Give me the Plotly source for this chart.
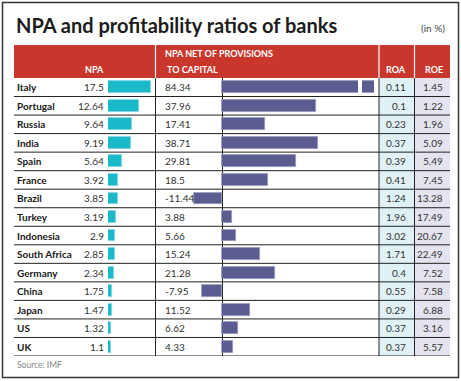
import plotly.graph_objects as go

countries = ["Italy", "Portugal", "Russia", "India", "Spain", "France", "Brazil", "Turkey",
             "Indonesia", "South Africa", "Germany", "China", "Japan", "US", "UK"]
npa = [17.5, 12.64, 9.64, 9.19, 5.64, 3.92, 3.85, 3.19, 2.9, 2.85, 2.34, 1.75, 1.47, 1.32, 1.1]
npa_net = [84.34, 37.96, 17.41, 38.71, 29.81, 18.5, -11.44, 3.88, 5.66, 15.24, 21.28, -7.95, 11.52, 6.62, 4.33]
roa = [0.11, 0.1, 0.23, 0.37, 0.39, 0.41, 1.24, 1.96, 3.02, 1.71, 0.4, 0.55, 0.29, 0.37, 0.37]
roe = [1.45, 1.22, 1.96, 5.09, 5.49, 7.45, 13.28, 17.49, 20.67, 22.49, 7.52, 7.58, 6.88, 3.16, 5.57]
npa_labels = ["17.5", "12.64", "9.64", "9.19", "5.64", "3.92", "3.85", "3.19", "2.9", "2.85", "2.34", "1.75", "1.47", "1.32", "1.1"]
net_labels = ["84.34", "37.96", "17.41", "38.71", "29.81", "18.5", "-11.44", "3.88", "5.66", "15.24", "21.28", "-7.95", "11.52", "6.62", "4.33"]
roa_labels = ["0.11", "0.1", "0.23", "0.37", "0.39", "0.41", "1.24", "1.96", "3.02", "1.71", "0.4", "0.55", "0.29", "0.37", "0.37"]
roe_labels = ["1.45", "1.22", "1.96", "5.09", "5.49", "7.45", "13.28", "17.49", "20.67", "22.49", "7.52", "7.58", "6.88", "3.16", "5.57"]

W, H = 461, 381
def px(x): return x / W
def py(y): return 1 - y / H

n = len(countries)
rows = list(range(n))
K = 2.47  # px per unit

RED = "#c9372c"
CYAN = "#19b9c9"
SLATE = "#5b5c8f"
ROA_BG = "#dff1f4"
ROE_BG = "#e4e3ef"
LINE = "#222222"
FONT = "Lato"

TOP, BOT = 78, 356
X_NPA0, X_NPA1 = 108, 154
X_NET0, X_ZERO, X_NET1 = 157, 222, 374

fig = go.Figure()
fig.add_trace(go.Bar(x=npa, y=rows, orientation="h", xaxis="x", yaxis="y", width=0.64,
                     marker=dict(color=CYAN, line=dict(color="#86d7e0", width=0.8)),
                     hoverinfo="x+y", showlegend=False))
fig.add_trace(go.Bar(x=npa_net, y=rows, orientation="h", xaxis="x2", yaxis="y", width=0.64,
                     marker=dict(color=SLATE, line=dict(color="#9797bb", width=0.8)),
                     hoverinfo="x+y", showlegend=False))

shapes = []
# header band
shapes.append(dict(type="rect", xref="paper", yref="paper", x0=px(14), x1=px(450), y0=py(78), y1=py(45),
                   fillcolor=RED, line=dict(width=0), layer="below"))
# ROA / ROE backgrounds
shapes.append(dict(type="rect", xref="paper", yref="paper", x0=px(379), x1=px(414), y0=py(BOT), y1=py(TOP),
                   fillcolor=ROA_BG, line=dict(width=0), layer="below"))
shapes.append(dict(type="rect", xref="paper", yref="paper", x0=px(414), x1=px(450), y0=py(BOT), y1=py(TOP),
                   fillcolor=ROE_BG, line=dict(width=0), layer="below"))
# row separators
for i in rows:
    shapes.append(dict(type="line", xref="paper", yref="y", x0=px(14), x1=px(450), y0=i + 0.5, y1=i + 0.5,
                       line=dict(color=LINE, width=1), layer="above"))
# column dividers body (black) and header (white)
for xv in (155.5, 379, 414.5):
    shapes.append(dict(type="line", xref="paper", yref="paper", x0=px(xv), x1=px(xv), y0=py(BOT), y1=py(TOP),
                       line=dict(color=LINE, width=1), layer="above"))
    shapes.append(dict(type="line", xref="paper", yref="paper", x0=px(xv), x1=px(xv), y0=py(TOP), y1=py(45),
                       line=dict(color="white", width=1.2), layer="above"))
# axis break on the truncated Italy bar
shapes.append(dict(type="rect", xref="paper", yref="y", x0=px(358), x1=px(362), y0=-0.45, y1=0.45,
                   fillcolor="white", line=dict(width=0), layer="above"))
# outer frame
shapes.append(dict(type="rect", xref="paper", yref="paper", x0=px(2.5), x1=px(458.5), y0=py(377.5), y1=py(2.5),
                   fillcolor="rgba(0,0,0,0)", line=dict(color="#333333", width=1.5), layer="above"))

ann = []
body = dict(family=FONT, size=10, color="#333333")
for i in rows:
    ann.append(dict(x=px(15), y=i, xref="paper", yref="y", text="<b>%s</b>" % countries[i], showarrow=False,
                    xanchor="left", yanchor="middle", font=dict(family=FONT, size=10, color="#1a1a1a")))
    ann.append(dict(x=px(105.5), y=i, xref="paper", yref="y", text=npa_labels[i], showarrow=False,
                    xanchor="right", yanchor="middle", font=body))
    ann.append(dict(x=px(162.5), y=i, xref="paper", yref="y", text=net_labels[i], showarrow=False,
                    xanchor="left", yanchor="middle", font=body))
    ann.append(dict(x=px(407.5), y=i, xref="paper", yref="y", text=roa_labels[i], showarrow=False,
                    xanchor="right", yanchor="middle", font=body))
    ann.append(dict(x=px(444.5), y=i, xref="paper", yref="y", text=roe_labels[i], showarrow=False,
                    xanchor="right", yanchor="middle", font=body))

hdr = dict(family=FONT, size=9, color="white")
ann.append(dict(x=px(105.5), y=py(69), xref="paper", yref="paper", text="<b>NPA</b>", showarrow=False,
                xanchor="right", yanchor="middle", font=hdr))
ann.append(dict(x=px(162.5), y=py(54), xref="paper", yref="paper", text="<b>NPA NET OF PROVISIONS</b>",
                showarrow=False, xanchor="left", yanchor="middle", font=hdr))
ann.append(dict(x=px(164.5), y=py(69), xref="paper", yref="paper", text="<b>TO CAPITAL</b>",
                showarrow=False, xanchor="left", yanchor="middle", font=hdr))
ann.append(dict(x=px(407.5), y=py(69), xref="paper", yref="paper", text="<b>ROA</b>", showarrow=False,
                xanchor="right", yanchor="middle", font=hdr))
ann.append(dict(x=px(444.5), y=py(69), xref="paper", yref="paper", text="<b>ROE</b>", showarrow=False,
                xanchor="right", yanchor="middle", font=hdr))
ann.append(dict(x=px(447), y=py(28), xref="paper", yref="paper", text="(in %)", showarrow=False,
                xanchor="right", yanchor="middle", font=dict(family=FONT, size=10, color="#444444")))
ann.append(dict(x=px(15), y=py(365), xref="paper", yref="paper", text="Source: IMF", showarrow=False,
                xanchor="left", yanchor="middle", font=dict(family=FONT, size=8.5, color="#888888")))
ann.append(dict(x=px(14), y=py(25), xref="paper", yref="paper", text="<b>NPA and profitability ratios of banks</b>",
                showarrow=False, xanchor="left", yanchor="middle", font=dict(family=FONT, size=20, color="#1c1c1c")))

fig.update_layout(
    width=W, height=H, margin=dict(l=0, r=0, t=0, b=0),
    paper_bgcolor="white", plot_bgcolor="rgba(0,0,0,0)",
    showlegend=False, bargap=0,
    xaxis=dict(domain=[px(X_NPA0), px(X_NPA1)], range=[0, (X_NPA1 - X_NPA0) / K], anchor="y",
               showgrid=False, zeroline=False, showticklabels=False, showline=False, fixedrange=True),
    xaxis2=dict(domain=[px(X_NET0), px(X_NET1)], range=[(X_NET0 - X_ZERO) / K, (X_NET1 - X_ZERO) / K], anchor="y",
                showgrid=False, zeroline=True, zerolinecolor=LINE, zerolinewidth=1,
                showticklabels=False, showline=False, fixedrange=True),
    yaxis=dict(domain=[py(BOT), py(TOP)], range=[n - 0.5, -0.5], showgrid=False, zeroline=False,
               showticklabels=False, showline=False, fixedrange=True),
    shapes=shapes, annotations=ann,
)

fig.write_html("out.html", config={"displayModeBar": False},
               post_script="document.body.style.margin='0';document.body.style.padding='0';document.body.style.overflow='hidden';")
